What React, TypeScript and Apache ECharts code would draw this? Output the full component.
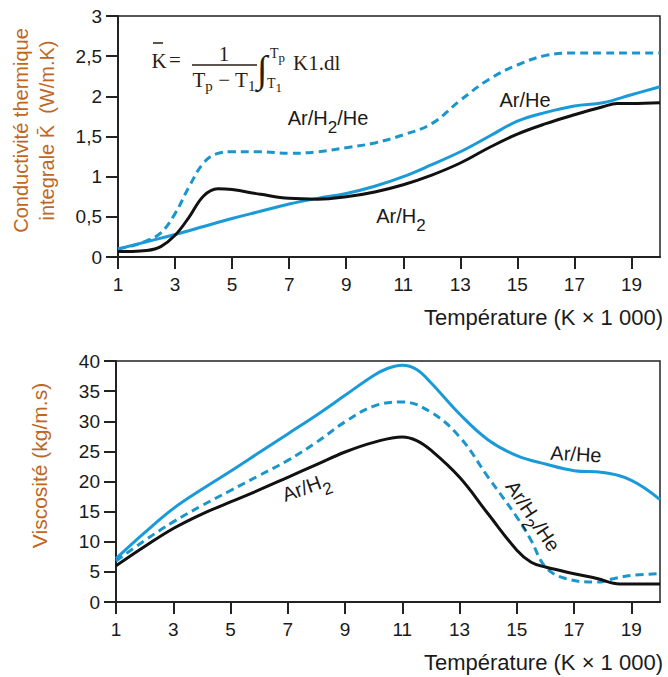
import React, { useEffect, useRef } from "react";
import * as echarts from "echarts";

// ---------- DATA ----------
const xTickValues = [1, 3, 5, 7, 9, 11, 13, 15, 17, 19];

// Top: integral thermal conductivity (W/m.K)
const topT_ArH2 = [1, 1.5, 2, 2.5, 3, 3.5, 4, 4.5, 5, 6, 7, 8, 9, 10, 11, 12, 13, 14, 15, 16, 17, 18, 18.5, 19, 20];
const topK_ArH2 = [0.07, 0.07, 0.08, 0.13, 0.27, 0.5, 0.76, 0.85, 0.84, 0.78, 0.73, 0.72, 0.75, 0.81, 0.9, 1.02, 1.17, 1.36, 1.53, 1.66, 1.77, 1.87, 1.91, 1.91, 1.92];

const topT_ArHe = [1, 2, 3, 4, 5, 6, 7, 8, 9, 10, 11, 12, 13, 14, 15, 16, 17, 18, 19, 20];
const topK_ArHe = [0.1, 0.19, 0.28, 0.38, 0.48, 0.57, 0.66, 0.73, 0.79, 0.88, 1.0, 1.15, 1.31, 1.5, 1.69, 1.8, 1.88, 1.92, 2.02, 2.12];

const topT_ArH2He = [1, 1.5, 2, 2.5, 3, 3.5, 4, 4.5, 5, 6, 7, 8, 9, 10, 11, 12, 13, 14, 15, 16, 17, 18, 19, 20];
const topK_ArH2He = [0.1, 0.14, 0.2, 0.3, 0.54, 0.88, 1.17, 1.29, 1.31, 1.31, 1.29, 1.31, 1.36, 1.42, 1.52, 1.66, 1.95, 2.21, 2.39, 2.51, 2.54, 2.54, 2.54, 2.54];

// Bottom: viscosity (kg/m.s)
const botT_ArHe = [1, 2, 3, 4, 5, 6, 7, 8, 9, 10, 10.5, 11, 11.5, 12, 13, 14, 15, 16, 17, 18, 19, 20];
const botV_ArHe = [7.2, 11.5, 15.5, 18.7, 21.7, 24.8, 27.9, 31.0, 34.3, 37.6, 38.8, 39.3, 38.6, 36.4, 31.2, 26.9, 24.3, 22.9, 21.8, 21.5, 20.2, 17.0];

const botT_ArH2He = [1, 2, 3, 4, 5, 6, 7, 8, 9, 10, 11, 12, 13, 14, 15, 15.5, 16, 16.7, 17.8, 18.4, 19, 20];
const botV_ArH2He = [6.8, 10.2, 13.3, 16.0, 18.5, 21.0, 23.5, 26.5, 29.9, 32.5, 33.2, 31.5, 27.4, 20.7, 14.1, 10.2, 5.8, 3.9, 3.3, 3.9, 4.4, 4.7];

const botT_ArH2 = [1, 2, 3, 4, 5, 6, 7, 8, 9, 10, 11, 11.5, 12, 13, 14, 15, 15.5, 16, 17, 17.8, 18.6, 20];
const botV_ArH2 = [6.0, 9.2, 12.2, 14.6, 16.6, 18.6, 20.7, 22.8, 24.9, 26.5, 27.4, 26.8, 25.2, 20.7, 14.6, 8.6, 6.6, 5.8, 4.7, 3.9, 3.0, 3.0];

// ---------- STYLE ----------
const BLUE = "#1a9ad8";
const DASH_BLUE = "#1b96cc";
const BLACK = "#111111";
const LABEL_ORANGE = "#c0661f";
const TXT = "#1a1a1a";
const SANS = "Liberation Sans, Arial, sans-serif";
const SERIF = "Liberation Serif, Times New Roman, serif";

const zip = (xs: number[], ys: number[]) => xs.map((x, i) => [x, ys[i]]);

const commaFmt = (v: number) => String(v).replace(".", ",");

function xAxisCfg(gridIndex: number) {
  return {
    type: "value",
    gridIndex,
    min: 1,
    max: 20,
    name: "Température (K × 1 000)",
    nameLocation: "end",
    nameGap: 3,
    nameTextStyle: {
      fontFamily: SANS,
      fontSize: 22,
      color: TXT,
      align: "right",
      verticalAlign: "top",
      padding: [49, 0, 0, 0],
    },
    axisLine: { show: true, onZero: false, lineStyle: { color: "#222", width: 2 } },
    axisTick: { show: true, customValues: xTickValues, length: 12, lineStyle: { color: "#222", width: 2 } },
    axisLabel: { customValues: xTickValues, margin: 18, fontFamily: SANS, fontSize: 19, color: TXT },
    splitLine: { show: false },
  };
}

function subLabel(x: number, y: number, parts: string, rotationDeg = 0) {
  return {
    type: "text",
    x,
    y,
    rotation: (rotationDeg * Math.PI) / 180,
    z: 100,
    style: {
      text: parts,
      align: "center",
      verticalAlign: "middle",
      textAlign: "center",
      textVerticalAlign: "middle",
      fill: TXT,
      rich: {
        a: { fontFamily: SANS, fontSize: 20, lineHeight: 22, fill: TXT },
        s: { fontFamily: SANS, fontSize: 17, lineHeight: 18, padding: [18, 0, 0, 0], fill: TXT },
      },
    },
  };
}

function plainText(x: number, y: number, text: string, size: number, family = SANS, fill = TXT, align = "center", rotationDeg = 0) {
  return {
    type: "text",
    x,
    y,
    rotation: (rotationDeg * Math.PI) / 180,
    z: 100,
    style: {
      text,
      fontFamily: family,
      fontSize: size,
      fill,
      align,
      verticalAlign: "middle",
      textAlign: align,
      textVerticalAlign: "middle",
    },
  };
}

const FORM = "#2b1d10";

export default function App() {
  const ref = useRef<HTMLDivElement>(null);
  useEffect(() => {
    if (!ref.current) return;
    const chart = echarts.init(ref.current, undefined, { renderer: "svg" });
    const option: any = {
      animation: false,
      backgroundColor: "#ffffff",
      grid: [
        { left: 116, top: 16, width: 544, height: 241, show: true, borderColor: "#222", borderWidth: 1.5, containLabel: false },
        { left: 116, top: 361, width: 544, height: 241, show: true, borderColor: "#222", borderWidth: 1.5, containLabel: false },
      ],
      xAxis: [xAxisCfg(0), xAxisCfg(1)],
      yAxis: [
        {
          type: "value",
          gridIndex: 0,
          min: 0,
          max: 3,
          interval: 0.5,
          name: "Conductivité thermique\nintegrale K\u0304  (W/m.K)",
          nameLocation: "middle",
          nameRotate: 90,
          nameGap: 58,
          nameTextStyle: { fontFamily: SANS, fontSize: 20, lineHeight: 26, color: LABEL_ORANGE, padding: [0, 0, 0, 12] },
          axisLine: { show: true, lineStyle: { color: "#222", width: 2 } },
          axisTick: { show: true, length: 12, lineStyle: { color: "#222", width: 2 } },
          axisLabel: { margin: 16, fontFamily: SANS, fontSize: 19, color: TXT, formatter: commaFmt },
          splitLine: { show: false },
        },
        {
          type: "value",
          gridIndex: 1,
          min: 0,
          max: 40,
          interval: 5,
          name: "Viscosité (kg/m.s)",
          nameLocation: "middle",
          nameRotate: 90,
          nameGap: 66,
          nameTextStyle: { fontFamily: SANS, fontSize: 21, color: LABEL_ORANGE, padding: [0, 0, 0, 32] },
          axisLine: { show: true, lineStyle: { color: "#222", width: 2 } },
          axisTick: { show: true, length: 12, lineStyle: { color: "#222", width: 2 } },
          axisLabel: { margin: 16, fontFamily: SANS, fontSize: 19, color: TXT },
          splitLine: { show: false },
        },
      ],
      series: [
        { name: "Ar/H2/He", type: "line", xAxisIndex: 0, yAxisIndex: 0, data: zip(topT_ArH2He, topK_ArH2He), showSymbol: false, smooth: 0.4, lineStyle: { color: DASH_BLUE, width: 3, type: [8, 5] } },
        { name: "Ar/He", type: "line", xAxisIndex: 0, yAxisIndex: 0, data: zip(topT_ArHe, topK_ArHe), showSymbol: false, smooth: 0.4, lineStyle: { color: BLUE, width: 3 } },
        { name: "Ar/H2", type: "line", xAxisIndex: 0, yAxisIndex: 0, data: zip(topT_ArH2, topK_ArH2), showSymbol: false, smooth: 0.4, lineStyle: { color: BLACK, width: 3 } },
        { name: "Ar/H2/He ", type: "line", xAxisIndex: 1, yAxisIndex: 1, data: zip(botT_ArH2He, botV_ArH2He), showSymbol: false, smooth: 0.4, lineStyle: { color: DASH_BLUE, width: 3, type: [8, 5] } },
        { name: "Ar/He ", type: "line", xAxisIndex: 1, yAxisIndex: 1, data: zip(botT_ArHe, botV_ArHe), showSymbol: false, smooth: 0.4, lineStyle: { color: BLUE, width: 3 } },
        { name: "Ar/H2 ", type: "line", xAxisIndex: 1, yAxisIndex: 1, data: zip(botT_ArH2, botV_ArH2), showSymbol: false, smooth: 0.4, lineStyle: { color: BLACK, width: 3 } },
      ],
      graphic: [
        // formula
        { type: "line", z: 100, shape: { x1: 153, y1: 43, x2: 163, y2: 43 }, style: { stroke: FORM, lineWidth: 1.5 } },
        plainText(159, 61, "K", 21, SERIF, FORM),
        plainText(175, 60, "=", 21, SERIF, FORM),
        plainText(224, 54, "1", 21, SERIF, FORM),
        { type: "line", z: 100, shape: { x1: 192, y1: 65, x2: 257, y2: 65 }, style: { stroke: FORM, lineWidth: 1.5 } },
        {
          type: "text", x: 224, y: 69, z: 100,
          style: {
            text: "{m|T}{s|p}{m| − T}{s|1}",
            align: "center", verticalAlign: "top", textAlign: "center", textVerticalAlign: "top",
            fill: FORM,
            rich: {
              m: { fontFamily: SERIF, fontSize: 21, lineHeight: 22, fill: FORM },
              s: { fontFamily: SERIF, fontSize: 15, lineHeight: 16, padding: [12, 0, 0, 0], fill: FORM },
            },
          },
        },
        plainText(262, 69, "∫", 38, SERIF, FORM),
        {
          type: "text", x: 270, y: 46, z: 100,
          style: {
            text: "{m|T}{s|p}",
            align: "left", verticalAlign: "top", textAlign: "left", textVerticalAlign: "top", fill: FORM,
            rich: {
              m: { fontFamily: SERIF, fontSize: 14, lineHeight: 14, fill: FORM },
              s: { fontFamily: SERIF, fontSize: 13, lineHeight: 13, padding: [8, 0, 0, 0], fill: FORM },
            },
          },
        },
        {
          type: "text", x: 267, y: 76, z: 100,
          style: {
            text: "{m|T}{s|1}",
            align: "left", verticalAlign: "top", textAlign: "left", textVerticalAlign: "top", fill: FORM,
            rich: {
              m: { fontFamily: SERIF, fontSize: 14, lineHeight: 14, fill: FORM },
              s: { fontFamily: SERIF, fontSize: 13, lineHeight: 13, padding: [8, 0, 0, 0], fill: FORM },
            },
          },
        },
        plainText(293, 63, "K1.dl", 21, SERIF, FORM, "left"),
        // top annotations
        subLabel(328, 118, "{a|Ar/H}{s|2}{a|/He}"),
        subLabel(401, 216, "{a|Ar/H}{s|2}"),
        plainText(525, 100, "Ar/He", 20),
        // bottom annotations
        subLabel(306, 487, "{a|Ar/H}{s|2}", 20),
        subLabel(533, 516, "{a|Ar/H}{s|2}{a|/He}", -56),
        plainText(576, 454, "Ar/He", 20, SANS, TXT, "center", -3),
      ],
    };
    chart.setOption(option);
    return () => chart.dispose();
  }, []);
  return <div ref={ref} style={{ position: "absolute", left: 0, top: 0, width: 668, height: 677, background: "#fff" }} />;
}
